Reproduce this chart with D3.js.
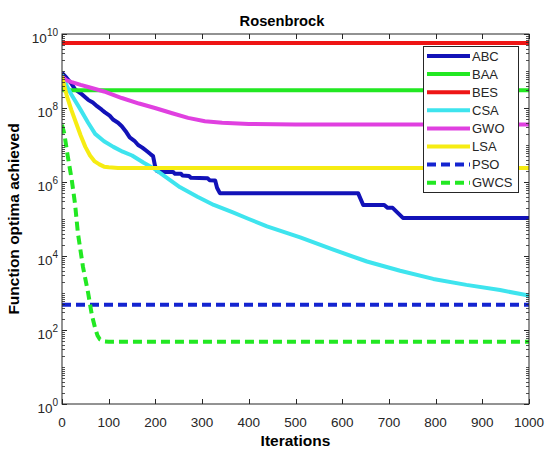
<!DOCTYPE html>
<html>
<head>
<meta charset="utf-8">
<script src="https://cdn.jsdelivr.net/npm/d3@7"></script>
<style>
  html, body { margin: 0; padding: 0; background: #fff; }
  svg { display: block; font-family: "Liberation Sans", Arial, sans-serif; }
</style>
</head>
<body>
<svg id="chart" width="547" height="450"></svg>
<script>
// Convergence curves on the Rosenbrock function (best value vs iteration)
const title = "Rosenbrock";
const xLabel = "Iterations";
const yLabel = "Function optima achieved";

const xTicks = [0, 100, 200, 300, 400, 500, 600, 700, 800, 900, 1000];
const yTickExponents = [0, 2, 4, 6, 8, 10];

const seriesNames = ["ABC", "BAA", "BES", "CSA", "GWO", "LSA", "PSO", "GWCS"];

const abcIter = [0, 10, 20, 28, 40, 56, 66, 75, 85, 92, 102, 110, 120, 128, 138, 145, 155, 163, 172, 180, 190, 195, 199, 203, 210, 238, 242, 255, 258, 272, 276, 312, 316, 328, 332, 338, 634, 645, 690, 697, 708, 730, 1000];
const abcVal = [8.9e8, 6.5e8, 4.6e8, 3.2e8, 2.5e8, 1.66e8, 1.4e8, 1.12e8, 9.0e7, 7.6e7, 6.2e7, 4.8e7, 4.0e7, 3.2e7, 2.2e7, 1.6e7, 1.3e7, 1.0e7, 8.5e6, 7.1e6, 5.6e6, 5.0e6, 2.8e6, 2.0e6, 1.86e6, 1.86e6, 1.66e6, 1.66e6, 1.5e6, 1.45e6, 1.3e6, 1.26e6, 1.12e6, 1.1e6, 7.0e5, 5.0e5, 5.0e5, 2.4e5, 2.4e5, 2.0e5, 2.0e5, 1.07e5, 1.07e5];

const baaIter = [0, 4, 1000];
const baaVal = [7.1e8, 3.0e8, 3.0e8];

const besIter = [0, 1000];
const besVal = [5.7e9, 5.7e9];

const csaIter = [0, 10, 21, 40, 56, 71, 90, 110, 130, 150, 175, 195, 215, 253, 290, 325, 366, 400, 439, 510, 581, 653, 724, 795, 866, 938, 1000];
const csaVal = [7.9e8, 4.0e8, 2.2e8, 8.9e7, 4.0e7, 2.0e7, 1.26e7, 8.9e6, 6.6e6, 5.2e6, 3.3e6, 2.4e6, 1.58e6, 7.2e5, 4.0e5, 2.4e5, 1.5e5, 1.0e5, 6.3e4, 3.2e4, 1.48e4, 7.1e3, 4.0e3, 2.4e3, 1.66e3, 1.2e3, 850];

const gwoIter = [0, 10, 21, 40, 56, 90, 128, 165, 199, 236, 270, 306, 343, 400, 500, 1000];
const gwoVal = [7.1e8, 5.6e8, 5.0e8, 4.2e8, 3.7e8, 2.8e8, 1.86e8, 1.32e8, 1.0e8, 7.2e7, 5.4e7, 4.4e7, 4.0e7, 3.7e7, 3.6e7, 3.6e7];

const lsaIter = [0, 10, 20, 30, 40, 50, 60, 70, 80, 90, 100, 120, 1000];
const lsaVal = [7.1e8, 2.2e8, 8.9e7, 4.0e7, 1.8e7, 8.9e6, 5.2e6, 3.6e6, 3.0e6, 2.6e6, 2.5e6, 2.4e6, 2.4e6];

const psoIter = [0, 1000];
const psoVal = [480, 480];

const gwcsIter = [0, 5, 11, 21, 28, 34, 45, 56, 64, 71, 76, 81, 90, 100, 1000];
const gwcsVal = [3.5e7, 2.0e7, 6.3e6, 1.12e6, 2.5e5, 4.2e4, 5.0e3, 1.0e3, 250, 112, 71, 56, 49, 48, 48];

const seriesIter = [abcIter, baaIter, besIter, csaIter, gwoIter, lsaIter, psoIter, gwcsIter];
const seriesVal = [abcVal, baaVal, besVal, csaVal, gwoVal, lsaVal, psoVal, gwcsVal];
const seriesColor = ["#1212b8", "#22e822", "#ee1515", "#3ee4ee", "#e040e0", "#f6ec12", "#1424d0", "#22e822"];
const seriesDash = [null, null, null, null, null, null, "9,5", "9,5"];

// ---- layout
const svg = d3.select("#chart");
const margin = { left: 62, right: 18, top: 34, bottom: 46 };
const W = 547, H = 450;
const x0 = margin.left, x1 = W - margin.right;
const y0 = H - margin.bottom, y1 = margin.top;
const axisColor = "#262626";

const x = d3.scaleLinear().domain([0, 1000]).range([x0, x1]);
const y = d3.scaleLog().domain([1, 1e10]).range([y0, y1]);

svg.append("rect").attr("x", 0).attr("y", 0).attr("width", W).attr("height", H).attr("fill", "#fff");

// ---- curves
svg.append("clipPath").attr("id", "plotclip")
  .append("rect").attr("x", x0).attr("y", y1).attr("width", x1 - x0).attr("height", y0 - y1);

const line = d3.line().x(d => x(d[0])).y(d => y(d[1])).curve(d3.curveLinear);
const curves = svg.append("g").attr("clip-path", "url(#plotclip)");
seriesNames.forEach((name, i) => {
  const pts = seriesIter[i].map((it, k) => [it, seriesVal[i][k]]);
  curves.append("path")
    .datum(pts)
    .attr("d", line)
    .attr("fill", "none")
    .attr("stroke", seriesColor[i])
    .attr("stroke-width", 4)
    .attr("stroke-linejoin", "round")
    .attr("stroke-dasharray", seriesDash[i]);
});

// ---- axes (box with inward ticks on all sides)
const axes = svg.append("g");
axes.append("rect").attr("x", x0).attr("y", y1).attr("width", x1 - x0).attr("height", y0 - y1)
  .attr("fill", "none").attr("stroke", axisColor).attr("stroke-width", 1);

const majorLen = 5, minorLen = 3;
xTicks.forEach(t => {
  const px = Math.round(x(t)) + 0.5;
  axes.append("line").attr("x1", px).attr("x2", px).attr("y1", y0).attr("y2", y0 - majorLen).attr("stroke", axisColor);
  axes.append("line").attr("x1", px).attr("x2", px).attr("y1", y1).attr("y2", y1 + majorLen).attr("stroke", axisColor);
});

// y minor ticks (every decade and its 2..9 multiples)
for (let e = 0; e < 10; e++) {
  for (let m = 1; m <= 9; m++) {
    if (m === 1 && e % 2 === 0) continue;
    const v = m * Math.pow(10, e);
    const py = Math.round(y(v)) + 0.5;
    axes.append("line").attr("x1", x0).attr("x2", x0 + minorLen).attr("y1", py).attr("y2", py).attr("stroke", axisColor).attr("stroke-width", 0.8);
    axes.append("line").attr("x1", x1).attr("x2", x1 - minorLen).attr("y1", py).attr("y2", py).attr("stroke", axisColor).attr("stroke-width", 0.8);
  }
}
yTickExponents.forEach(e => {
  const py = Math.round(y(Math.pow(10, e))) + 0.5;
  axes.append("line").attr("x1", x0).attr("x2", x0 + majorLen).attr("y1", py).attr("y2", py).attr("stroke", axisColor);
  axes.append("line").attr("x1", x1).attr("x2", x1 - majorLen).attr("y1", py).attr("y2", py).attr("stroke", axisColor);
});

// tick labels
xTicks.forEach(t => {
  axes.append("text").attr("x", x(t)).attr("y", y0 + 23)
    .attr("text-anchor", "middle").attr("font-size", 13.5).attr("fill", axisColor).text(String(t));
});
yTickExponents.forEach(e => {
  const tx = axes.append("text").attr("x", x0 - 4).attr("y", y(Math.pow(10, e)) + 9)
    .attr("text-anchor", "end").attr("font-size", 13.5).attr("fill", axisColor);
  tx.append("tspan").text("10");
  tx.append("tspan").attr("dy", -7).attr("font-size", 10).text(String(e));
});

// titles
svg.append("text").attr("x", 282).attr("y", 26).attr("text-anchor", "middle")
  .attr("font-size", 14.7).attr("font-weight", "bold").attr("fill", "#000").text(title);
svg.append("text").attr("x", (x0 + x1) / 2).attr("y", y0 + 42).attr("text-anchor", "middle")
  .attr("font-size", 15.5).attr("font-weight", "bold").attr("fill", "#000").text(xLabel);
svg.append("text")
  .attr("transform", `translate(19, ${(y0 + y1) / 2}) rotate(-90)`)
  .attr("text-anchor", "middle").attr("font-size", 15.5).attr("font-weight", "bold").attr("fill", "#000").text(yLabel);

// ---- legend
const lg = svg.append("g");
const lgX = 423, lgY = 46, lgW = 95, lgH = 146;
lg.append("rect").attr("x", lgX + 0.5).attr("y", lgY + 0.5).attr("width", lgW).attr("height", lgH)
  .attr("fill", "#fff").attr("stroke", axisColor).attr("stroke-width", 1);
seriesNames.forEach((name, i) => {
  const cy = lgY + 10 + i * 18.1;
  lg.append("line").attr("x1", lgX + 4).attr("x2", lgX + 47).attr("y1", cy).attr("y2", cy)
    .attr("stroke", seriesColor[i]).attr("stroke-width", 4).attr("stroke-dasharray", seriesDash[i]);
  lg.append("text").attr("x", lgX + 49).attr("y", cy + 4.5).attr("font-size", 13).attr("fill", axisColor).text(name);
});
</script>
</body>
</html>
